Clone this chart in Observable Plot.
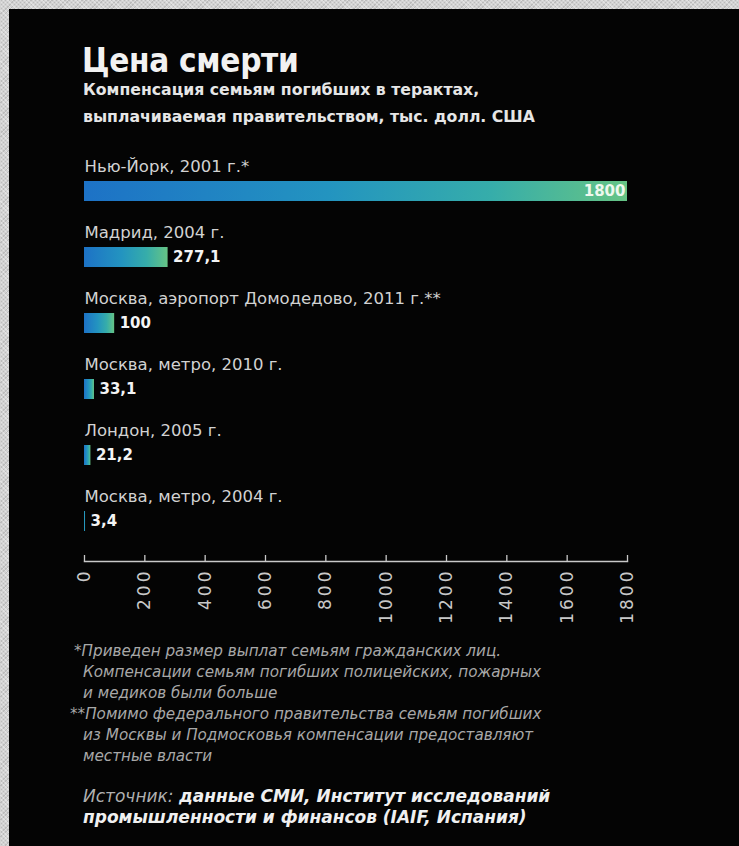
<!DOCTYPE html>
<html>
<head>
<meta charset="utf-8">
<script src="https://cdn.jsdelivr.net/npm/d3@7"></script>
<script src="https://cdn.jsdelivr.net/npm/@observablehq/plot@0.6"></script>
<style>
  html, body { margin: 0; padding: 0; }
  body {
    width: 739px; height: 846px; overflow: hidden; position: relative;
    background-color: #d2d2d2;
    background-image:
      repeating-linear-gradient(45deg, rgba(255,255,255,0.35) 0 1px, transparent 1px 3px),
      repeating-linear-gradient(-45deg, rgba(120,120,120,0.25) 0 1px, transparent 1px 3px);
    font-family: "DejaVu Sans", sans-serif;
  }
  #panel { position: absolute; left: 9px; top: 9px; width: 730px; height: 837px; background: #040404; }
  .abs { position: absolute; white-space: nowrap; }
  #title { left: 82px; top: 41px; font-size: 33px; font-weight: 700; color: #f2f2f2; font-stretch: condensed; letter-spacing: -0.3px; }
  .sub { left: 83px; font-size: 15.7px; font-weight: 700; color: #e6e6e6; }
  .note { font-size: 15.2px; font-style: italic; color: #a8a8a8; }
  .src { left: 83px; font-size: 17px; font-style: italic; color: #b0b0b0; }
  .src b { color: #f0f0f0; }
  #chart { position: absolute; left: 0; top: 140px; }
</style>
</head>
<body>
<div id="panel"></div>
<div id="title" class="abs">Цена смерти</div>
<div class="abs sub" style="top:80px">Компенсация семьям погибших в терактах,</div>
<div class="abs sub" style="top:107px">выплачиваемая правительством, тыс. долл. США</div>
<div id="chart"></div>
<div class="abs note" style="left:74px;top:642px">*Приведен размер выплат семьям гражданских лиц.</div>
<div class="abs note" style="left:83px;top:663px">Компенсации семьям погибших полицейских, пожарных</div>
<div class="abs note" style="left:83px;top:684px">и медиков были больше</div>
<div class="abs note" style="left:70px;top:705px">**Помимо федерального правительства семьям погибших</div>
<div class="abs note" style="left:83px;top:726px">из Москвы и Подмосковья компенсации предоставляют</div>
<div class="abs note" style="left:83px;top:747px">местные власти</div>
<div class="abs src" style="top:786px">Источник: <b>данные СМИ, Институт исследований</b></div>
<div class="abs src" style="top:807px"><b>промышленности и финансов (IAIF, Испания)</b></div>
<script>
// Data
const places = [
  "Нью-Йорк, 2001 г.*",
  "Мадрид, 2004 г.",
  "Москва, аэропорт Домодедово, 2011 г.**",
  "Москва, метро, 2010 г.",
  "Лондон, 2005 г.",
  "Москва, метро, 2004 г."
];
const amounts = [1800, 277.1, 100, 33.1, 21.2, 3.4];
const xTicks = [0, 200, 400, 600, 800, 1000, 1200, 1400, 1600, 1800];

const data = places.map((p, i) => ({place: p, value: amounts[i]}));
const fmt = v => String(v).replace(".", ",");

const chart = Plot.plot({
  width: 739,
  height: 500,
  marginLeft: 84,
  marginRight: 112,
  marginTop: 10,
  marginBottom: 79,
  style: {background: "transparent", color: "#c4c4c4", fontFamily: "DejaVu Sans, sans-serif", fontSize: "14px"},
  x: {domain: [0, 1800]},
  y: {domain: places, paddingInner: 0.7, paddingOuter: 0.45, axis: null},
  marks: [
    Plot.barX(data, {x: "value", y: "place", fill: "url(#barGrad)"}),
    Plot.text(data, {x: 0, y: "place", text: "place", textAnchor: "start", dy: -25, fill: "#d2d2d2", fontSize: 16.5}),
    Plot.text(data.filter(d => d.value >= 1000), {x: "value", y: "place", text: d => fmt(d.value), textAnchor: "end", dx: -2, fill: "#eef8ee", fontSize: 15, fontWeight: "bold"}),
    Plot.text(data.filter(d => d.value < 1000), {x: "value", y: "place", text: d => fmt(d.value), textAnchor: "start", dx: 5, fill: "#f4f4f4", fontSize: 15, fontWeight: "bold"}),
    Plot.axisX({ticks: xTicks, tickFormat: d => String(d), tickRotate: -90, tickSize: -6, tickPadding: 13, stroke: "#c8c8c8", strokeWidth: 1.3, fill: "#c8c8c8", fontSize: 17, label: null}),
    Plot.frame({anchor: "bottom", stroke: "#c8c8c8", strokeWidth: 1.5})
  ]
});

// gradient for bars
const ns = "http://www.w3.org/2000/svg";
const defs = document.createElementNS(ns, "defs");
const grad = document.createElementNS(ns, "linearGradient");
grad.setAttribute("id", "barGrad");
grad.setAttribute("x1", "0"); grad.setAttribute("x2", "1");
grad.setAttribute("y1", "0"); grad.setAttribute("y2", "0");
[["0%", "#1d72c6"], ["45%", "#2394c0"], ["75%", "#36adaa"], ["100%", "#66c485"]].forEach(([o, c]) => {
  const s = document.createElementNS(ns, "stop");
  s.setAttribute("offset", o); s.setAttribute("stop-color", c);
  grad.appendChild(s);
});
defs.appendChild(grad);
chart.insertBefore(defs, chart.firstChild);

// widen rotated tick labels a little (source digits look stretched)
chart.querySelectorAll("[aria-label='x-axis tick label'] text").forEach(t => t.setAttribute("letter-spacing", "3"));

document.getElementById("chart").appendChild(chart);
</script>
</body>
</html>
